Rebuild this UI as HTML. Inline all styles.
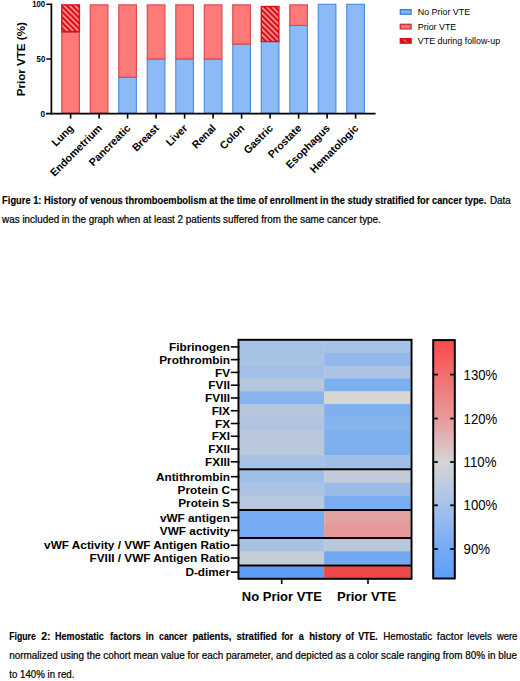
<!DOCTYPE html>
<html><head><meta charset="utf-8"><title>Figures</title>
<style>
html,body{margin:0;padding:0;background:#fff;}
body{width:520px;height:681px;overflow:hidden;}
svg{display:block;}
text{font-family:"Liberation Sans",sans-serif;fill:#000;}
.xl{font-size:10.6px;font-weight:bold;}
.yt{font-size:8.6px;font-weight:bold;}
.yl{font-size:11.5px;font-weight:bold;}
.lg{font-size:8.9px;}
.cap{font-size:10.2px;fill:#000;stroke:#000;stroke-width:0.22px;}
.capb{font-size:10.2px;font-weight:bold;fill:#000;stroke:#000;stroke-width:0.15px;}
.hl{font-size:11.8px;font-weight:bold;}
.hx{font-size:13px;font-weight:bold;}
.cbt{font-size:13.2px;}
</style></head><body>
<svg width="520" height="681" viewBox="0 0 520 681">
<defs><pattern id="hatch" patternUnits="userSpaceOnUse" width="3.85" height="3.85" patternTransform="rotate(-45)"><rect width="3.85" height="3.85" fill="#ff8686"/><rect width="1.9" height="3.85" fill="#d40c16"/></pattern></defs>
<rect x="61.80" y="32.25" width="17.60" height="81.05" fill="#fd7a78" stroke="#dc4a50" stroke-width="1.2"/>
<rect x="61.80" y="4.90" width="17.60" height="26.75" fill="url(#hatch)" stroke="#dc1019" stroke-width="1.4"/>
<line x1="70.60" y1="113.70" x2="70.60" y2="118.6" stroke="#000" stroke-width="1.6"/>
<text transform="translate(74.20,128.8) rotate(-45)" text-anchor="end" class="xl">Lung</text>
<rect x="90.30" y="4.90" width="17.60" height="108.40" fill="#fd7a78" stroke="#dc4a50" stroke-width="1.2"/>
<line x1="99.10" y1="113.70" x2="99.10" y2="118.6" stroke="#000" stroke-width="1.6"/>
<text transform="translate(102.70,128.8) rotate(-45)" text-anchor="end" class="xl">Endometrium</text>
<rect x="118.80" y="77.27" width="17.60" height="36.03" fill="#8bbaf6" stroke="#4f8fe2" stroke-width="1.2"/>
<rect x="118.80" y="4.90" width="17.60" height="72.37" fill="#fd7a78" stroke="#dc4a50" stroke-width="1.2"/>
<line x1="127.60" y1="113.70" x2="127.60" y2="118.6" stroke="#000" stroke-width="1.6"/>
<text transform="translate(131.20,128.8) rotate(-45)" text-anchor="end" class="xl">Pancreatic</text>
<rect x="147.30" y="59.00" width="17.60" height="54.30" fill="#8bbaf6" stroke="#4f8fe2" stroke-width="1.2"/>
<rect x="147.30" y="4.90" width="17.60" height="54.10" fill="#fd7a78" stroke="#dc4a50" stroke-width="1.2"/>
<line x1="156.10" y1="113.70" x2="156.10" y2="118.6" stroke="#000" stroke-width="1.6"/>
<text transform="translate(159.70,128.8) rotate(-45)" text-anchor="end" class="xl">Breast</text>
<rect x="175.80" y="59.00" width="17.60" height="54.30" fill="#8bbaf6" stroke="#4f8fe2" stroke-width="1.2"/>
<rect x="175.80" y="4.90" width="17.60" height="54.10" fill="#fd7a78" stroke="#dc4a50" stroke-width="1.2"/>
<line x1="184.60" y1="113.70" x2="184.60" y2="118.6" stroke="#000" stroke-width="1.6"/>
<text transform="translate(188.20,128.8) rotate(-45)" text-anchor="end" class="xl">Liver</text>
<rect x="204.30" y="59.00" width="17.60" height="54.30" fill="#8bbaf6" stroke="#4f8fe2" stroke-width="1.2"/>
<rect x="204.30" y="4.90" width="17.60" height="54.10" fill="#fd7a78" stroke="#dc4a50" stroke-width="1.2"/>
<line x1="213.10" y1="113.70" x2="213.10" y2="118.6" stroke="#000" stroke-width="1.6"/>
<text transform="translate(216.70,128.8) rotate(-45)" text-anchor="end" class="xl">Renal</text>
<rect x="232.80" y="44.12" width="17.60" height="69.18" fill="#8bbaf6" stroke="#4f8fe2" stroke-width="1.2"/>
<rect x="232.80" y="4.90" width="17.60" height="39.22" fill="#fd7a78" stroke="#dc4a50" stroke-width="1.2"/>
<line x1="241.60" y1="113.70" x2="241.60" y2="118.6" stroke="#000" stroke-width="1.6"/>
<text transform="translate(245.20,128.8) rotate(-45)" text-anchor="end" class="xl">Colon</text>
<rect x="261.30" y="41.50" width="17.60" height="71.80" fill="#8bbaf6" stroke="#4f8fe2" stroke-width="1.2"/>
<rect x="261.30" y="6.54" width="17.60" height="34.96" fill="url(#hatch)" stroke="#dc1019" stroke-width="1.4"/>
<line x1="270.10" y1="113.70" x2="270.10" y2="118.6" stroke="#000" stroke-width="1.6"/>
<text transform="translate(273.70,128.8) rotate(-45)" text-anchor="end" class="xl">Gastric</text>
<rect x="289.80" y="25.41" width="17.60" height="87.89" fill="#8bbaf6" stroke="#4f8fe2" stroke-width="1.2"/>
<rect x="289.80" y="4.90" width="17.60" height="20.51" fill="#fd7a78" stroke="#dc4a50" stroke-width="1.2"/>
<line x1="298.60" y1="113.70" x2="298.60" y2="118.6" stroke="#000" stroke-width="1.6"/>
<text transform="translate(302.20,128.8) rotate(-45)" text-anchor="end" class="xl">Prostate</text>
<rect x="318.30" y="4.30" width="17.60" height="109.00" fill="#8bbaf6" stroke="#4f8fe2" stroke-width="1.2"/>
<line x1="327.10" y1="113.70" x2="327.10" y2="118.6" stroke="#000" stroke-width="1.6"/>
<text transform="translate(330.70,128.8) rotate(-45)" text-anchor="end" class="xl">Esophagus</text>
<rect x="346.80" y="4.30" width="17.60" height="109.00" fill="#8bbaf6" stroke="#4f8fe2" stroke-width="1.2"/>
<line x1="355.60" y1="113.70" x2="355.60" y2="118.6" stroke="#000" stroke-width="1.6"/>
<text transform="translate(359.20,128.8) rotate(-45)" text-anchor="end" class="xl">Hematologic</text>
<line x1="51.4" y1="3.50" x2="51.4" y2="114.50" stroke="#000" stroke-width="1.7"/>
<line x1="46" y1="113.70" x2="375.6" y2="113.70" stroke="#000" stroke-width="1.8"/>
<line x1="46.3" y1="59.00" x2="51.4" y2="59.00" stroke="#000" stroke-width="1.5"/>
<line x1="46.3" y1="4.30" x2="51.4" y2="4.30" stroke="#000" stroke-width="1.5"/>
<text x="40.60" y="116.60" class="yt" textLength="4.6" lengthAdjust="spacingAndGlyphs">0</text>
<text x="36.60" y="61.90" class="yt" textLength="8.6" lengthAdjust="spacingAndGlyphs">50</text>
<text x="32.20" y="7.20" class="yt" textLength="13.0" lengthAdjust="spacingAndGlyphs">100</text>
<text transform="translate(24.6,96.2) rotate(-90)" class="yl" textLength="74" lengthAdjust="spacingAndGlyphs">Prior VTE (%)</text>
<rect x="400.3" y="9.60" width="10.8" height="4.6" fill="#7fb2f6" stroke="#3f7fd8" stroke-width="1.3"/>
<text x="417.8" y="15.10" class="lg">No Prior VTE</text>
<rect x="400.3" y="24.30" width="10.8" height="4.6" fill="#fb6f6f" stroke="#c8343a" stroke-width="1.3"/>
<text x="417.8" y="29.80" class="lg">Prior VTE</text>
<rect x="400.3" y="38.60" width="10.8" height="4.6" fill="#dc1019" stroke="#dc1019" stroke-width="1.3"/>
<line x1="403.5" y1="39.70" x2="406.5" y2="42.10" stroke="#ff9a9a" stroke-width="1"/>
<text x="417.8" y="44.10" class="lg">VTE during follow-up</text>
<text x="2.1" y="203.7" class="capb" textLength="484.3" lengthAdjust="spacingAndGlyphs">Figure 1: History of venous thromboembolism at the time of enrollment in the study stratified for cancer type.</text>
<text x="489.9" y="203.7" class="cap" textLength="20.7" lengthAdjust="spacingAndGlyphs">Data</text>
<text x="2.1" y="222.9" class="cap" textLength="378.7" lengthAdjust="spacingAndGlyphs">was included in the graph when at least 2 patients suffered from the same cancer type.</text>
<rect x="239.50" y="340.20" width="84.60" height="13.37" fill="#a6c2e6"/>
<rect x="324.10" y="340.20" width="86.40" height="13.37" fill="#a6c2e6"/>
<line x1="230.8" y1="346.88" x2="239.50" y2="346.88" stroke="#000" stroke-width="1.6"/>
<text x="230" y="350.99" text-anchor="end" class="hl">Fibrinogen</text>
<rect x="239.50" y="352.97" width="84.60" height="13.37" fill="#a8c3e4"/>
<rect x="324.10" y="352.97" width="86.40" height="13.37" fill="#92b8ec"/>
<line x1="230.8" y1="359.65" x2="239.50" y2="359.65" stroke="#000" stroke-width="1.6"/>
<text x="230" y="363.75" text-anchor="end" class="hl">Prothrombin</text>
<rect x="239.50" y="365.74" width="84.60" height="13.37" fill="#a2c0e6"/>
<rect x="324.10" y="365.74" width="86.40" height="13.37" fill="#abc4e3"/>
<line x1="230.8" y1="372.43" x2="239.50" y2="372.43" stroke="#000" stroke-width="1.6"/>
<text x="230" y="376.53" text-anchor="end" class="hl">FV</text>
<rect x="239.50" y="378.51" width="84.60" height="13.37" fill="#b8c8dc"/>
<rect x="324.10" y="378.51" width="86.40" height="13.37" fill="#7cb0f0"/>
<line x1="230.8" y1="385.19" x2="239.50" y2="385.19" stroke="#000" stroke-width="1.6"/>
<text x="230" y="389.30" text-anchor="end" class="hl">FVII</text>
<rect x="239.50" y="391.28" width="84.60" height="13.37" fill="#88b4ee"/>
<rect x="324.10" y="391.28" width="86.40" height="13.37" fill="#d8d5d3"/>
<line x1="230.8" y1="397.96" x2="239.50" y2="397.96" stroke="#000" stroke-width="1.6"/>
<text x="230" y="402.06" text-anchor="end" class="hl">FVIII</text>
<rect x="239.50" y="404.05" width="84.60" height="13.37" fill="#b6c7dd"/>
<rect x="324.10" y="404.05" width="86.40" height="13.37" fill="#7eb0f0"/>
<line x1="230.8" y1="410.74" x2="239.50" y2="410.74" stroke="#000" stroke-width="1.6"/>
<text x="230" y="414.84" text-anchor="end" class="hl">FIX</text>
<rect x="239.50" y="416.82" width="84.60" height="13.37" fill="#b0c4e0"/>
<rect x="324.10" y="416.82" width="86.40" height="13.37" fill="#88b4ee"/>
<line x1="230.8" y1="423.50" x2="239.50" y2="423.50" stroke="#000" stroke-width="1.6"/>
<text x="230" y="427.61" text-anchor="end" class="hl">FX</text>
<rect x="239.50" y="429.59" width="84.60" height="13.37" fill="#b8c8dc"/>
<rect x="324.10" y="429.59" width="86.40" height="13.37" fill="#7eb0f0"/>
<line x1="230.8" y1="436.27" x2="239.50" y2="436.27" stroke="#000" stroke-width="1.6"/>
<text x="230" y="440.38" text-anchor="end" class="hl">FXI</text>
<rect x="239.50" y="442.36" width="84.60" height="13.37" fill="#bac8dc"/>
<rect x="324.10" y="442.36" width="86.40" height="13.37" fill="#7eb0f0"/>
<line x1="230.8" y1="449.04" x2="239.50" y2="449.04" stroke="#000" stroke-width="1.6"/>
<text x="230" y="453.14" text-anchor="end" class="hl">FXII</text>
<rect x="239.50" y="455.13" width="84.60" height="13.37" fill="#a6c1e5"/>
<rect x="324.10" y="455.13" width="86.40" height="13.37" fill="#a0bee8"/>
<line x1="230.8" y1="461.81" x2="239.50" y2="461.81" stroke="#000" stroke-width="1.6"/>
<text x="230" y="465.92" text-anchor="end" class="hl">FXIII</text>
<rect x="239.50" y="469.90" width="84.60" height="13.53" fill="#9fbfe8"/>
<rect x="324.10" y="469.90" width="86.40" height="13.53" fill="#c1cbd9"/>
<line x1="230.8" y1="476.67" x2="239.50" y2="476.67" stroke="#000" stroke-width="1.6"/>
<text x="230" y="480.77" text-anchor="end" class="hl">Antithrombin</text>
<rect x="239.50" y="482.83" width="84.60" height="13.53" fill="#aac3e3"/>
<rect x="324.10" y="482.83" width="86.40" height="13.53" fill="#9cbce8"/>
<line x1="230.8" y1="489.60" x2="239.50" y2="489.60" stroke="#000" stroke-width="1.6"/>
<text x="230" y="493.70" text-anchor="end" class="hl">Protein C</text>
<rect x="239.50" y="495.77" width="84.60" height="13.53" fill="#b9c8dc"/>
<rect x="324.10" y="495.77" width="86.40" height="13.53" fill="#78adf2"/>
<line x1="230.8" y1="502.53" x2="239.50" y2="502.53" stroke="#000" stroke-width="1.6"/>
<text x="230" y="506.63" text-anchor="end" class="hl">Protein S</text>
<rect x="239.50" y="510.70" width="84.60" height="13.55" fill="#76aaf2"/>
<rect x="324.10" y="510.70" width="86.40" height="13.55" fill="#e2a2a2"/>
<line x1="230.8" y1="517.48" x2="239.50" y2="517.48" stroke="#000" stroke-width="1.6"/>
<text x="230" y="521.58" text-anchor="end" class="hl">vWF antigen</text>
<rect x="239.50" y="523.65" width="84.60" height="13.55" fill="#76aaf2"/>
<rect x="324.10" y="523.65" width="86.40" height="13.55" fill="#e59999"/>
<line x1="230.8" y1="530.43" x2="239.50" y2="530.43" stroke="#000" stroke-width="1.6"/>
<text x="230" y="534.53" text-anchor="end" class="hl">VWF activity</text>
<rect x="239.50" y="538.60" width="84.60" height="13.35" fill="#a8c2e4"/>
<rect x="324.10" y="538.60" width="86.40" height="13.35" fill="#b8c8dc"/>
<line x1="230.8" y1="545.27" x2="239.50" y2="545.27" stroke="#000" stroke-width="1.6"/>
<text x="230" y="549.38" text-anchor="end" class="hl">vWF Activity / VWF Antigen Ratio</text>
<rect x="239.50" y="551.35" width="84.60" height="13.35" fill="#c4ccd8"/>
<rect x="324.10" y="551.35" width="86.40" height="13.35" fill="#72a8f2"/>
<line x1="230.8" y1="558.02" x2="239.50" y2="558.02" stroke="#000" stroke-width="1.6"/>
<text x="230" y="562.12" text-anchor="end" class="hl">FVIII / VWF Antigen Ratio</text>
<rect x="239.50" y="566.10" width="84.60" height="12.00" fill="#5c9cf4"/>
<rect x="324.10" y="566.10" width="86.40" height="12.00" fill="#f04848"/>
<line x1="230.8" y1="572.10" x2="239.50" y2="572.10" stroke="#000" stroke-width="1.6"/>
<text x="230" y="576.20" text-anchor="end" class="hl">D-dimer</text>
<line x1="238.50" y1="469.20" x2="411.50" y2="469.20" stroke="#000" stroke-width="2"/>
<line x1="238.50" y1="510.00" x2="411.50" y2="510.00" stroke="#000" stroke-width="2"/>
<line x1="238.50" y1="537.90" x2="411.50" y2="537.90" stroke="#000" stroke-width="2"/>
<line x1="238.50" y1="565.40" x2="411.50" y2="565.40" stroke="#000" stroke-width="2"/>
<rect x="238.50" y="339.8" width="173.00" height="239.0" fill="none" stroke="#000" stroke-width="2"/>
<line x1="281.70" y1="579" x2="281.70" y2="584" stroke="#000" stroke-width="1.6"/>
<line x1="368.00" y1="579" x2="368.00" y2="584" stroke="#000" stroke-width="1.6"/>
<text x="281.9" y="600.8" text-anchor="middle" class="hx">No Prior VTE</text>
<text x="366.6" y="600.8" text-anchor="middle" class="hx">Prior VTE</text>
<defs><linearGradient id="cb" x1="0" y1="0" x2="0" y2="1"><stop offset="0" stop-color="#fd4848"/><stop offset="0.145" stop-color="#f26e6e"/><stop offset="0.329" stop-color="#e69a9a"/><stop offset="0.512" stop-color="#d5d5d7"/><stop offset="0.694" stop-color="#a6c1ea"/><stop offset="0.878" stop-color="#74aaf4"/><stop offset="1" stop-color="#5c9ff9"/></linearGradient></defs>
<rect x="433.2" y="340.1" width="21.6" height="238.4" fill="url(#cb)" stroke="#000" stroke-width="2"/>
<line x1="434.2" y1="374.60" x2="437.8" y2="374.60" stroke="#000" stroke-width="1.8"/>
<line x1="450.2" y1="374.60" x2="453.8" y2="374.60" stroke="#000" stroke-width="1.8"/>
<text transform="translate(463.6,379.60) scale(1,1.15)" class="cbt">130%</text>
<line x1="434.2" y1="418.50" x2="437.8" y2="418.50" stroke="#000" stroke-width="1.8"/>
<line x1="450.2" y1="418.50" x2="453.8" y2="418.50" stroke="#000" stroke-width="1.8"/>
<text transform="translate(463.6,423.50) scale(1,1.15)" class="cbt">120%</text>
<line x1="434.2" y1="462.00" x2="437.8" y2="462.00" stroke="#000" stroke-width="1.8"/>
<line x1="450.2" y1="462.00" x2="453.8" y2="462.00" stroke="#000" stroke-width="1.8"/>
<text transform="translate(463.6,467.00) scale(1,1.15)" class="cbt">110%</text>
<line x1="434.2" y1="505.30" x2="437.8" y2="505.30" stroke="#000" stroke-width="1.8"/>
<line x1="450.2" y1="505.30" x2="453.8" y2="505.30" stroke="#000" stroke-width="1.8"/>
<text transform="translate(463.6,510.30) scale(1,1.15)" class="cbt">100%</text>
<line x1="434.2" y1="549.00" x2="437.8" y2="549.00" stroke="#000" stroke-width="1.8"/>
<line x1="450.2" y1="549.00" x2="453.8" y2="549.00" stroke="#000" stroke-width="1.8"/>
<text transform="translate(463.6,554.00) scale(1,1.15)" class="cbt">90%</text>
<text x="9.2" y="640.0" class="capb" textLength="26.6" lengthAdjust="spacingAndGlyphs">Figure</text>
<text x="41.2" y="640.0" class="capb" textLength="9.3" lengthAdjust="spacingAndGlyphs">2:</text>
<text x="55.1" y="640.0" class="capb" textLength="48.6" lengthAdjust="spacingAndGlyphs">Hemostatic</text>
<text x="110.0" y="640.0" class="capb" textLength="30.9" lengthAdjust="spacingAndGlyphs">factors</text>
<text x="145.8" y="640.0" class="capb" textLength="8.1" lengthAdjust="spacingAndGlyphs">in</text>
<text x="159.0" y="640.0" class="capb" textLength="28.3" lengthAdjust="spacingAndGlyphs">cancer</text>
<text x="192.4" y="640.0" class="capb" textLength="39.1" lengthAdjust="spacingAndGlyphs">patients,</text>
<text x="236.4" y="640.0" class="capb" textLength="40.4" lengthAdjust="spacingAndGlyphs">stratified</text>
<text x="281.4" y="640.0" class="capb" textLength="11.9" lengthAdjust="spacingAndGlyphs">for</text>
<text x="298.7" y="640.0" class="capb" textLength="5.0" lengthAdjust="spacingAndGlyphs">a</text>
<text x="309.2" y="640.0" class="capb" textLength="31.8" lengthAdjust="spacingAndGlyphs">history</text>
<text x="345.6" y="640.0" class="capb" textLength="8.4" lengthAdjust="spacingAndGlyphs">of</text>
<text x="358.2" y="640.0" class="capb" textLength="19.6" lengthAdjust="spacingAndGlyphs">VTE.</text>
<text x="383.2" y="640.0" class="cap" textLength="49.0" lengthAdjust="spacingAndGlyphs">Hemostatic</text>
<text x="436.7" y="640.0" class="cap" textLength="26.5" lengthAdjust="spacingAndGlyphs">factor</text>
<text x="467.3" y="640.0" class="cap" textLength="24.4" lengthAdjust="spacingAndGlyphs">levels</text>
<text x="496.9" y="640.0" class="cap" textLength="20.4" lengthAdjust="spacingAndGlyphs">were</text>
<text x="9.3" y="659.3" class="cap" textLength="507.6" lengthAdjust="spacingAndGlyphs">normalized using the cohort mean value for each parameter, and depicted as a color scale ranging from 80% in blue</text>
<text x="9.3" y="678.4" class="cap" textLength="65.1" lengthAdjust="spacingAndGlyphs">to 140% in red.</text>
</svg>
</body></html>
